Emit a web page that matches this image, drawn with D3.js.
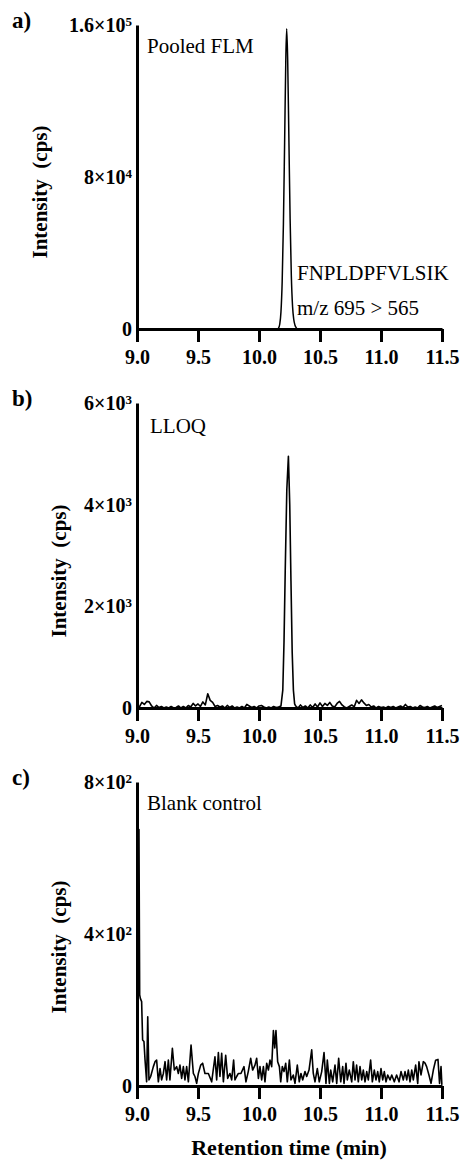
<!DOCTYPE html>
<html>
<head>
<meta charset="utf-8">
<script src="https://cdn.jsdelivr.net/npm/d3@7"></script>
<style>
body{margin:0;background:#fff}
svg text{font-family:'Liberation Serif','Times New Roman','DejaVu Serif',serif}
</style>
</head>
<body>
<div id="chart"></div>
<script>
"use strict"

// retention time axis (min)
var xDomain=[9.0,11.5]
var xTicks=[9.0,9.5,10.0,10.5,11.0,11.5]

// y axis ticks and labels per panel ("^" marks the exponent)
var pooledTicks=[0,80000,160000]
var pooledTickLabels=['0','8×10^4','1.6×10^5']
var lloqTicks=[0,2000,4000,6000]
var lloqTickLabels=['0','2×10^3','4×10^3','6×10^3']
var blankTicks=[0,400,800]
var blankTickLabels=['0','4×10^2','8×10^2']

// [time (min), intensity (cps)]
var pooledFLM=[[9.0,0],[10.15,0],[10.16,500],[10.17,2500],[10.18,9000],[10.19,25000],[10.20,55000],[10.21,98000],
  [10.22,143000],[10.227,158000],[10.235,142000],[10.245,100000],[10.255,58000],[10.265,28000],[10.275,12000],
  [10.285,5000],[10.295,2000],[10.305,700],[10.315,0],[11.5,0]]

var lloq=[[9.00,40],[9.02,20],[9.04,110],[9.06,70],[9.08,130],[9.10,120],[9.12,40],[9.14,0],[9.16,50],[9.18,10],
  [9.20,30],[9.22,0],[9.24,20],[9.26,0],[9.28,30],[9.30,0],[9.32,10],[9.34,40],[9.36,0],[9.38,30],[9.40,0],
  [9.42,50],[9.44,20],[9.46,90],[9.48,40],[9.50,80],[9.52,30],[9.54,120],[9.56,60],[9.58,280],[9.60,150],
  [9.62,110],[9.64,30],[9.66,50],[9.68,20],[9.70,40],[9.72,0],[9.74,50],[9.76,10],[9.78,40],[9.80,0],[9.82,20],
  [9.84,0],[9.86,30],[9.88,0],[9.90,70],[9.92,40],[9.94,10],[9.96,30],[9.98,0],[10.00,40],[10.02,50],[10.04,20],
  [10.06,0],[10.08,20],[10.10,0],[10.12,30],[10.14,10],[10.16,20],[10.18,40],[10.195,350],[10.205,1300],
  [10.215,2700],[10.228,4300],[10.241,4950],[10.252,4000],[10.262,2500],[10.272,1100],[10.282,350],[10.292,80],
  [10.30,40],[10.32,0],[10.34,60],[10.36,10],[10.38,40],[10.40,0],[10.42,60],[10.44,10],[10.46,80],[10.48,20],
  [10.50,100],[10.52,30],[10.54,90],[10.56,50],[10.58,110],[10.60,40],[10.62,20],[10.64,90],[10.66,130],[10.68,60],
  [10.70,20],[10.72,0],[10.74,30],[10.76,60],[10.78,20],[10.80,150],[10.82,90],[10.84,160],[10.86,100],[10.88,50],
  [10.90,70],[10.92,20],[10.94,40],[10.96,0],[10.98,30],[11.00,10],[11.02,20],[11.04,0],[11.06,30],[11.08,10],
  [11.10,30],[11.12,0],[11.14,20],[11.16,40],[11.18,10],[11.20,70],[11.22,20],[11.24,30],[11.26,0],[11.28,20],
  [11.30,0],[11.32,50],[11.34,20],[11.36,10],[11.38,30],[11.40,0],[11.42,20],[11.44,40],[11.46,10],[11.48,30],[11.50,50]]

var blank=[[9.000,300],[9.010,660],[9.016,675],[9.022,240],[9.028,230],[9.038,222],[9.046,121],[9.057,117],[9.066,68],[9.079,11],
  [9.088,182],[9.098,16],[9.112,25],[9.134,51],[9.148,64],[9.161,68],[9.175,11],[9.189,46],[9.202,16],[9.216,33],
  [9.230,64],[9.243,16],[9.257,68],[9.270,16],[9.290,99],[9.306,42],[9.325,51],[9.339,33],[9.352,55],[9.366,20],
  [9.380,51],[9.393,16],[9.407,51],[9.421,11],[9.443,108],[9.462,33],[9.475,25],[9.489,7],[9.503,33],[9.522,55],
  [9.538,60],[9.557,33],[9.585,33],[9.612,11],[9.639,77],[9.653,16],[9.667,88],[9.680,25],[9.694,86],[9.708,11],
  [9.727,81],[9.743,20],[9.762,33],[9.776,16],[9.792,68],[9.803,16],[9.817,25],[9.831,33],[9.852,33],[9.877,51],
  [9.893,11],[9.912,38],[9.932,73],[9.948,42],[9.967,55],[9.981,73],[9.995,20],[10.008,51],[10.022,16],[10.036,51],
  [10.049,11],[10.063,60],[10.077,42],[10.090,68],[10.104,51],[10.118,146],[10.129,100],[10.139,146],[10.153,64],
  [10.167,51],[10.178,11],[10.191,51],[10.205,38],[10.219,60],[10.232,11],[10.249,68],[10.262,16],[10.281,29],
  [10.295,7],[10.314,55],[10.330,11],[10.344,33],[10.358,16],[10.377,38],[10.391,25],[10.410,42],[10.432,95],
  [10.445,33],[10.459,11],[10.478,46],[10.494,11],[10.514,38],[10.533,88],[10.549,7],[10.560,68],[10.577,7],
  [10.588,42],[10.604,11],[10.623,55],[10.637,7],[10.653,73],[10.670,11],[10.686,51],[10.697,7],[10.713,60],
  [10.724,16],[10.740,42],[10.760,11],[10.773,64],[10.787,16],[10.800,55],[10.814,11],[10.828,51],[10.842,16],
  [10.855,42],[10.869,11],[10.883,38],[10.896,16],[10.915,68],[10.929,11],[10.945,42],[10.959,16],[10.973,38],
  [10.986,11],[11.000,46],[11.014,16],[11.027,38],[11.041,11],[11.055,29],[11.074,16],[11.088,29],[11.109,11],
  [11.128,29],[11.148,11],[11.164,38],[11.183,16],[11.197,38],[11.211,16],[11.224,42],[11.238,11],[11.252,42],
  [11.265,16],[11.284,55],[11.301,7],[11.311,64],[11.328,29],[11.347,64],[11.361,60],[11.374,51],[11.393,29],
  [11.410,7],[11.429,42],[11.448,68],[11.467,70],[11.480,7],[11.492,51],[11.499,3]]

var svg=d3.select('#chart').append('svg').attr('width',462).attr('height',1163)
svg.append('rect').attr('width',462).attr('height',1163).attr('fill','#fff')

var x=d3.scaleLinear().domain(xDomain).range([137,442])

var panels=[
  {letter:'a)',data:pooledFLM,ticks:pooledTicks,labels:pooledTickLabels,top:25,zero:329,
    ylab:[47,192],curve:d3.curveMonotoneX,width:1.5,
    notes:[['Pooled FLM',147,53],['FNPLDPFVLSIK',297,280],['m/z 695 > 565',297,315]]},
  {letter:'b)',data:lloq,ticks:lloqTicks,labels:lloqTickLabels,top:403,zero:708,
    ylab:[66,571],curve:d3.curveLinear,width:1.6,
    notes:[['LLOQ',150,433]]},
  {letter:'c)',data:blank,ticks:blankTicks,labels:blankTickLabels,top:782,zero:1086,
    ylab:[66,947],curve:d3.curveLinear,width:1.6,
    notes:[['Blank control',147,810]]}
]

function styleAxis(g){
  g.attr('font-family',null).attr('font-size',20).attr('font-weight','bold')
  g.select('.domain').attr('stroke','#000').attr('stroke-width',3)
  g.selectAll('.tick line').attr('stroke','#000').attr('stroke-width',3)
  g.selectAll('.tick text').attr('fill','#000')
}

panels.forEach(function(p){
  var y=d3.scaleLinear().domain([0,p.ticks[p.ticks.length-1]]).range([p.zero,p.top])

  // trace first so the axes sit on top of the baseline
  var line=d3.line().x(function(d){return x(d[0])}).y(function(d){return y(d[1])}).curve(p.curve)
  svg.append('path').datum(p.data).attr('d',line).attr('fill','none').attr('stroke','#000')
    .attr('stroke-width',p.width).attr('stroke-linejoin','round')

  var gx=svg.append('g').attr('transform','translate(0,'+p.zero+')')
    .call(d3.axisBottom(x).tickValues(xTicks).tickFormat(d3.format('.1f')).tickSize(13).tickSizeOuter(0).tickPadding(8))
  styleAxis(gx)

  var gy=svg.append('g').attr('transform','translate(137,0)')
    .call(d3.axisLeft(y).tickValues(p.ticks).tickSize(0).tickSizeOuter(0).tickPadding(5))
  styleAxis(gy)
  gy.selectAll('.tick text').each(function(d,i){
    var parts=p.labels[i].split('^')
    var t=d3.select(this).text(parts[0])
    if(parts[1])
      t.append('tspan').attr('dy','-0.45em').attr('font-size','0.65em').text(parts[1])
  })

  svg.append('text').attr('x',12).attr('y',p.top+3).attr('font-weight','bold')
    .attr('font-size',23).text(p.letter)

  svg.append('text').attr('transform','translate('+p.ylab[0]+','+p.ylab[1]+') rotate(-90)')
    .attr('text-anchor','middle').attr('font-weight','bold').attr('font-size',21)
    .style('white-space','pre').text('Intensity  (cps)')

  p.notes.forEach(function(n){
    svg.append('text').attr('x',n[1]).attr('y',n[2]).attr('font-size',21).text(n[0])
  })
})

svg.append('text').attr('x',289).attr('y',1155).attr('text-anchor','middle')
  .attr('font-weight','bold').attr('font-size',22).text('Retention time (min)')
</script>
</body>
</html>
